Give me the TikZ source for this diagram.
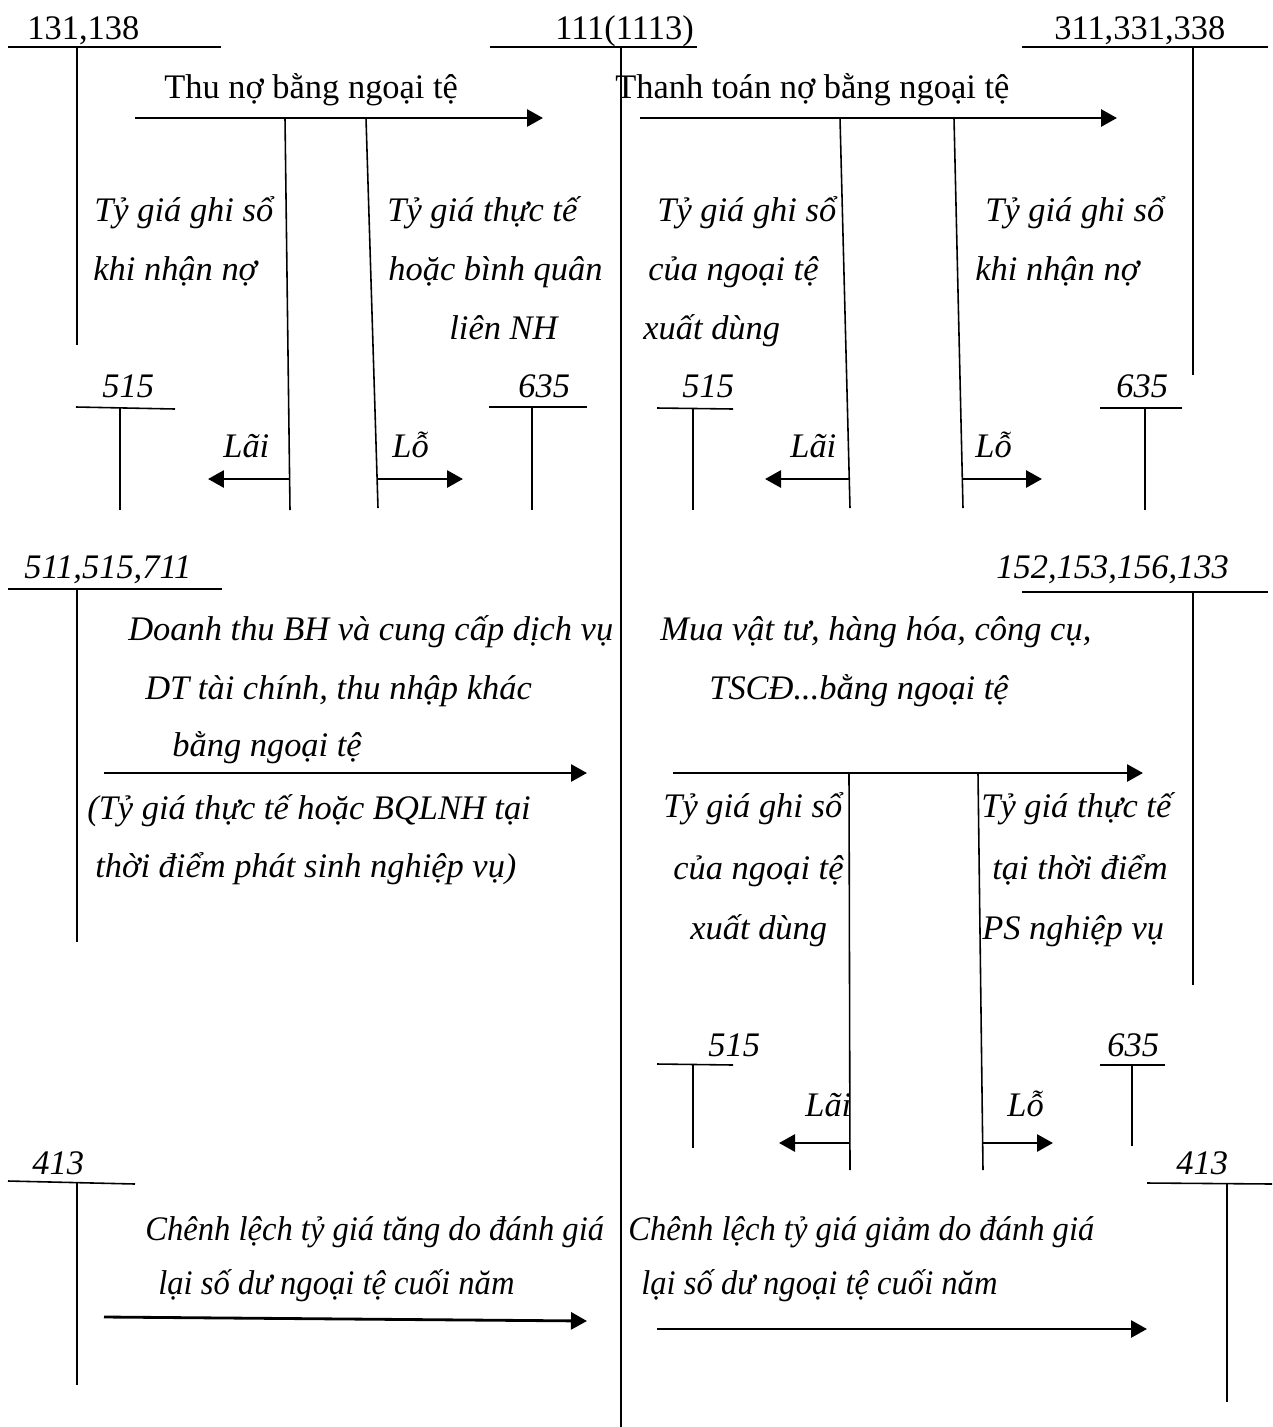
\documentclass[tikz,border=0pt]{standalone}
\usepackage{fontspec}
\setmainfont{Liberation Serif}
\usetikzlibrary{arrows.meta}
\begin{document}
\begin{tikzpicture}[x=0.02cm,y=-0.02cm,
  txt/.style={anchor=base west,inner sep=0pt,font=\fontsize{19.6}{24}\selectfont},
  it/.style={anchor=base west,inner sep=0pt,font=\fontsize{19.6}{24}\selectfont\itshape},
  thin/.style={line width=0.9pt},
  arr/.style={line width=1.6pt,-{Triangle[length=0.32cm,width=0.34cm]}}]
\useasboundingbox[fill=white] (0,0) rectangle (1272,1427);

% ---------- top T accounts ----------
\node[txt] (a131) at (27,39) {131,138};
\draw[thin] (8,47) -- (221,47);
\draw[thin] (77,47) -- (77,345);

\node[txt] (a111) at (555,39) {111(1113)};
\draw[thin] (490,47) -- (697,47);
\draw[thin] (621,47) -- (621,1427);

\node[txt] (a311) at (1054,39) {311,331,338};
\draw[thin] (1022,47) -- (1268,47);
\draw[thin] (1193,47) -- (1193,375);

% ---------- top-left block ----------
\node[txt] (thuno) at (164,98) {Thu nợ bằng ngoại tệ};
\coordinate (thuS) at (135,118);
\coordinate (thuE) at (543,118);
\draw[arr] (thuS) -- (thuE);
\draw[thin] (285,118) -- (290,510);
\draw[thin] (366,118) -- (378,508);

\node[it] (l1a) at (94,221) {Tỷ giá ghi sổ};
\node[it] (l1b) at (93,280) {khi nhận nợ};
\node[it] (l2a) at (387,221) {Tỷ giá thực tế};
\node[it] (l2b) at (388,280) {hoặc bình quân};
\node[it] (l2c) at (449,339) {liên NH};

\node[it] (t515a) at (102,397) {515};
\draw[thin] (76,407) -- (175,409);
\draw[thin] (120,408) -- (120,510);
\node[it] (t635a) at (518,397) {635};
\draw[thin] (489,407) -- (587,407);
\draw[thin] (532,407) -- (532,510);

\node[it] (laiA) at (223,457) {Lãi};
\draw[arr] (290,479) -- (208,479);
\node[it] (loA) at (392,457) {Lỗ};
\draw[arr] (378,479) -- (463,479);

% ---------- top-right block ----------
\node[txt] (thanhtoan) at (615,98) {Thanh toán nợ bằng ngoại tệ};
\draw[arr] (640,118) -- (1117,118);
\draw[thin] (840,118) -- (850,508);
\draw[thin] (954,118) -- (963,508);

\node[it] (r1a) at (657,221) {Tỷ giá ghi sổ};
\node[it] (r1b) at (648,280) {của ngoại tệ};
\node[it] (r1c) at (643,339) {xuất dùng};
\node[it] (r2a) at (985,221) {Tỷ giá ghi sổ};
\node[it] (r2b) at (975,280) {khi nhận nợ};

\node[it] (t515b) at (682,397) {515};
\draw[thin] (657,408) -- (733,409);
\draw[thin] (693,409) -- (693,510);
\node[it] (t635b) at (1116,397) {635};
\draw[thin] (1100,408) -- (1182,408);
\draw[thin] (1145,408) -- (1145,510);

\node[it] (laiB) at (790,457) {Lãi};
\draw[arr] (850,479) -- (765,479);
\node[it] (loB) at (975,457) {Lỗ};
\draw[arr] (963,479) -- (1042,479);

% ---------- middle-left block ----------
\node[it] (a511) at (24,578) {511,515,711};
\draw[thin] (8,589) -- (222,589);
\draw[thin] (77,589) -- (77,942);

\node[it] (m1) at (128,640) {Doanh thu BH và cung cấp dịch vụ};
\node[it] (m2) at (145,699) {DT tài chính, thu nhập khác};
\node[it] (m3) at (172,756) {bằng ngoại tệ};
\draw[arr] (104,773) -- (587,773);
\node[it] (m4) at (87,819) {(Tỷ giá thực tế hoặc BQLNH tại};
\node[it] (m5) at (95,877) {thời điểm phát sinh nghiệp vụ)};

% ---------- middle-right block ----------
\node[it] (a152) at (996,578) {152,153,156,133};
\draw[thin] (1022,592) -- (1268,592);
\draw[thin] (1193,592) -- (1193,985);

\node[it] (n1) at (660,640) {Mua vật tư, hàng hóa, công cụ,};
\node[it] (n2) at (709,699) {TSCĐ...bằng ngoại tệ};
\draw[arr] (673,773) -- (1143,773);
\draw[thin] (849,773) -- (850,1170);
\draw[thin] (978,773) -- (983,1170);

\node[it] (n3) at (663,817) {Tỷ giá ghi sổ};
\node[it] (n4) at (673,879) {của ngoại tệ};
\node[it] (n5) at (690,939) {xuất dùng};
\node[it] (n6) at (981,817) {Tỷ giá thực tế};
\node[it] (n7) at (992,879) {tại thời điểm};
\node[it] (n8) at (982,939) {PS nghiệp vụ};

\node[it] (t515c) at (708,1056) {515};
\draw[thin] (657,1064) -- (733,1065);
\draw[thin] (693,1065) -- (693,1148);
\node[it] (t635c) at (1107,1056) {635};
\draw[thin] (1100,1065) -- (1165,1065);
\draw[thin] (1132,1065) -- (1132,1146);

\node[it] (laiC) at (805,1116) {Lãi};
\draw[arr] (850,1143) -- (779,1143);
\node[it] (loC) at (1007,1116) {Lỗ};
\draw[arr] (982,1143) -- (1053,1143);

% ---------- bottom ----------
\node[it] (a413l) at (32,1174) {413};
\draw[thin] (8,1181) -- (135,1184);
\draw[thin] (77,1183) -- (77,1385);

\node[it] (a413r) at (1176,1174) {413};
\draw[thin] (1147,1183) -- (1272,1184);
\draw[thin] (1227,1184) -- (1227,1402);

\node[it] (b1) at (145,1240) {\scalebox{0.946}[1]{Chênh lệch tỷ giá tăng do đánh giá}};
\node[it] (b2) at (158,1294) {\scalebox{0.946}[1]{lại số dư ngoại tệ cuối năm}};
\draw[arr] (104,1317) -- (587,1321);

\node[it] (b3) at (628,1240) {\scalebox{0.946}[1]{Chênh lệch tỷ giá giảm do đánh giá}};
\node[it] (b4) at (641,1294) {\scalebox{0.946}[1]{lại số dư ngoại tệ cuối năm}};
\draw[arr] (657,1329) -- (1147,1329);
\end{tikzpicture}
\end{document}
